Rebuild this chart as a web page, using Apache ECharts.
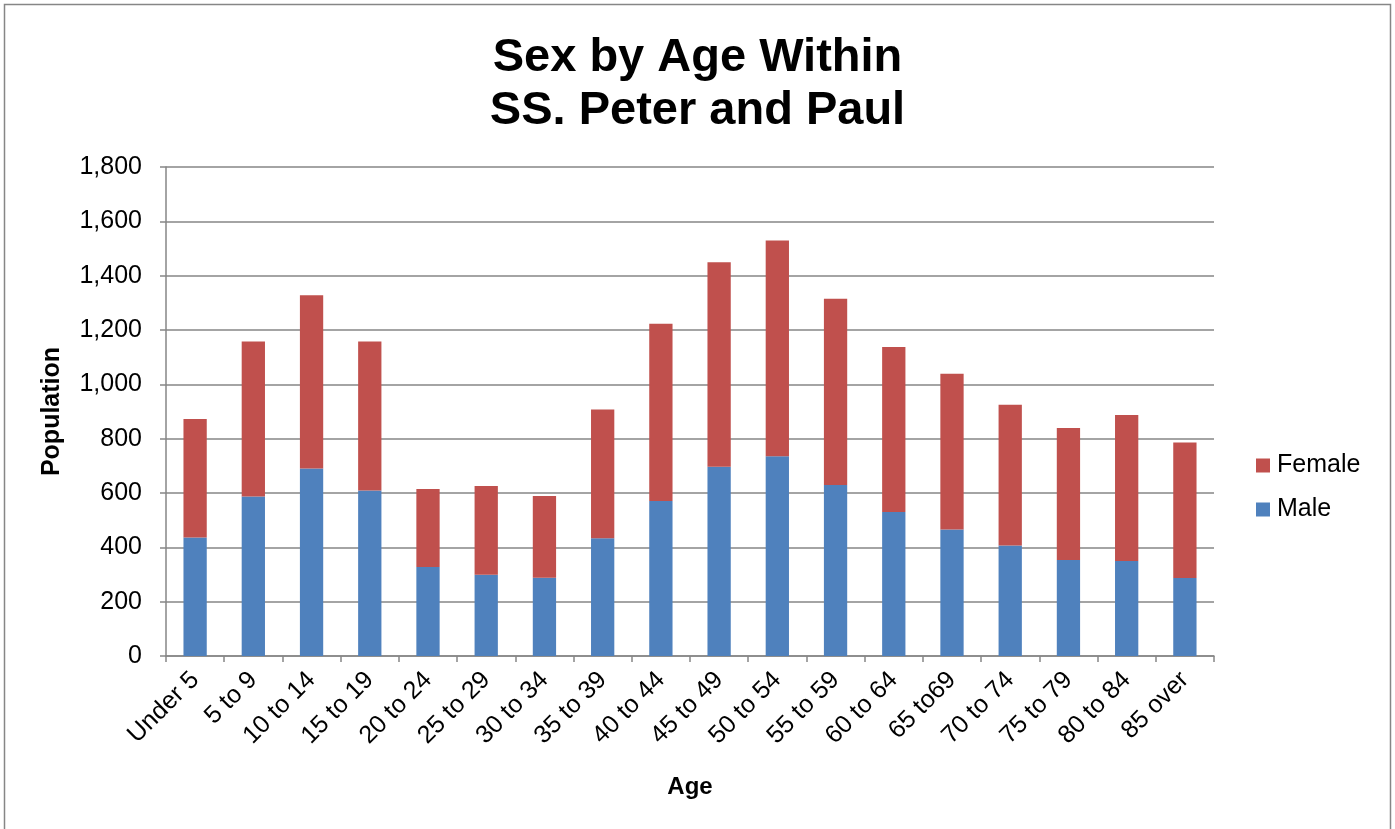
<!DOCTYPE html>
<html>
<head>
<meta charset="utf-8">
<script src="https://cdn.jsdelivr.net/npm/echarts@6/dist/echarts.min.js"></script>
<style>
html,body{margin:0;padding:0;background:#fff;}
#chart{width:1395px;height:829px;}
</style>
</head>
<body>
<div id="chart"></div>
<script>
var categories = ['Under 5','5 to 9','10 to 14','15 to 19','20 to 24','25 to 29','30 to 34','35 to 39','40 to 44','45 to 49','50 to 54','55 to 59','60 to 64','65 to69','70 to 74','75 to 79','80 to 84','85 over'];
var male   = [436, 587, 690, 609, 328, 299, 288, 433, 571, 697, 735, 629, 530, 466, 407, 353, 350, 287];
var female = [436, 571, 638, 549, 287, 327, 301, 474, 652, 752, 794, 686, 607, 573, 518, 486, 537, 499];
var yTicks = {min: 0, max: 1800, interval: 200};

var chart = echarts.init(document.getElementById('chart'));
var font = 'Liberation Sans, Arial, sans-serif';
chart.setOption({
  animation: false,
  backgroundColor: '#ffffff',
  graphic: [{
    type: 'rect',
    shape: {x: 4.5, y: 4.5, width: 1386, height: 840},
    style: {fill: 'none', stroke: '#868686', lineWidth: 1.5},
    silent: true
  }],
  title: {
    text: 'Sex by Age Within\nSS. Peter and Paul',
    left: 'center',
    top: 27,
    textStyle: {fontFamily: font, fontWeight: 'bold', fontSize: 47, lineHeight: 53, color: '#000'}
  },
  legend: {
    orient: 'vertical',
    left: 1256,
    top: 453,
    padding: 0,
    itemWidth: 14,
    itemHeight: 14,
    itemGap: 19,
    icon: 'rect',
    data: ['Female', 'Male'],
    textStyle: {fontFamily: font, fontSize: 25, color: '#000', padding: [0,0,0,2]}
  },
  grid: {left: 166, right: 181, top: 167, bottom: 173, containLabel: false},
  xAxis: {
    type: 'category',
    data: categories,
    name: 'Age',
    nameLocation: 'middle',
    nameGap: 119,
    nameTextStyle: {fontFamily: font, fontWeight: 'bold', fontSize: 24, color: '#000'},
    axisLine: {lineStyle: {color: '#868686', width: 1.5}},
    axisTick: {show: true, alignWithLabel: false, length: 6, lineStyle: {color: '#868686', width: 1.5}},
    axisLabel: {rotate: 45, fontFamily: font, fontSize: 25, color: '#000', margin: 20, interval: 0}
  },
  yAxis: {
    type: 'value',
    min: yTicks.min,
    max: yTicks.max,
    interval: yTicks.interval,
    name: 'Population',
    nameLocation: 'middle',
    nameGap: 101,
    nameTextStyle: {fontFamily: font, fontWeight: 'bold', fontSize: 25, color: '#000'},
    axisLine: {show: true, lineStyle: {color: '#868686', width: 1.5}},
    axisTick: {show: true, length: 6, lineStyle: {color: '#868686', width: 1.5}},
    splitLine: {show: true, lineStyle: {color: '#868686', width: 1.5}},
    axisLabel: {fontFamily: font, fontSize: 25, color: '#000', margin: 24,
      formatter: function (v) { return v.toLocaleString('en-US'); }}
  },
  series: [
    {name: 'Male', type: 'bar', stack: 'total', data: male, barWidth: '40%',
     itemStyle: {color: '#4F81BD'}},
    {name: 'Female', type: 'bar', stack: 'total', data: female, barWidth: '40%',
     itemStyle: {color: '#C0504D'}}
  ]
});
</script>
</body>
</html>
